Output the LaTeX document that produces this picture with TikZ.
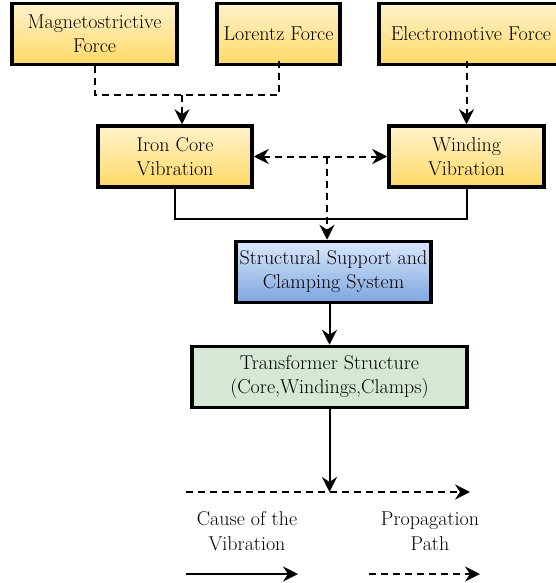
\documentclass[tikz,border=0pt]{standalone}
\usepackage{tikz}
\usetikzlibrary{positioning}
\usetikzlibrary{arrows.meta,shapes}
\usetikzlibrary{calc}
\definecolor{yellowtop}{HTML}{FFF2CC}
\definecolor{yellowbot}{HTML}{FFD966}
\definecolor{bluetop}{HTML}{DAE8FC}
\definecolor{bluebot}{HTML}{7EA6E0}
\definecolor{greenfill}{HTML}{D5E8D4}
\tikzstyle{box}=[rectangle,draw=black,line width=3.5pt,align=center,minimum height=61pt,inner sep=2pt,font=\fontsize{20}{24}\selectfont]
\tikzstyle{forcebox}=[box,top color=yellowtop,bottom color=yellowbot]
\tikzstyle{supportbox}=[box,top color=bluetop,bottom color=bluebot]
\tikzstyle{structbox}=[box,fill=greenfill]
\tikzstyle{edge} = [draw,line width=2pt,-{Stealth[length=15pt,width=15pt,inset=5pt]}]
\tikzstyle{dashededge} = [edge,dash pattern=on 7pt off 5pt]
\tikzstyle{plainedge} = [draw,line width=2pt]
\tikzstyle{legendtext} = [align=center,font=\fontsize{20}{25}\selectfont]

\begin{document}
\begin{tikzpicture}[x=1pt,y=-1pt]
  \useasboundingbox (0,0) rectangle (556,583);

  \foreach \pos/\name/\boxw/\txt in {{(94.5,34)/mag/165/{Magnetostrictive\\Force}}, {(278.5,34)/lor/123/{Lorentz Force}}, {(471,34)/emf/184/{Electromotive Force}}, {(175,156.5)/iron/154/{Iron Core\\Vibration}}, {(466.5,156.5)/wind/155/{Winding\\Vibration}}}
     \node[forcebox,minimum width=\boxw pt] (\name) at \pos {\txt};

  \node[supportbox,minimum width=195pt] (sup) at (333.5,272) {Structural Support and\\Clamping System};
  \node[structbox,minimum width=275pt] (tra) at (329.5,377) {Transformer Structure\\(Core,Windings,Clamps)};

  % forces to vibrations
  \coordinate (fj) at (182,95);
  \draw[plainedge,dash pattern=on 7pt off 5pt] (mag.south) |- (fj) -| ([yshift=5pt]lor.south);
  \path[dashededge] (fj) -- (fj |- iron.north);
  \path[dashededge] ([yshift=5pt]emf.south -| wind.north) -- (wind.north);

  % vibrations to support
  \path[dashededge,{Stealth[length=15pt,width=15pt,inset=5pt]}-{Stealth[length=15pt,width=15pt,inset=5pt]}] (iron.east) -- (wind.west);
  \coordinate (vj) at (327,156.5);
  \path[dashededge] (vj) -- (vj |- sup.north);
  \draw[plainedge] (iron.south) -- ++(0,30) -| (wind.south);

  \path[edge] (tra.north |- sup.south) -- (tra.north);

  % legend
  \coordinate (la) at (186,492);
  \coordinate (lb) at (470,492);
  \path[dashededge] (la) -- (lb);
  \path[edge] (tra.south) -- (tra.south |- la);

  \node[legendtext] (cause) at (247,531) {Cause of the\\Vibration};
  \node[legendtext] (prop) at (430,531) {Propagation\\Path};
  \coordinate (ca) at (186,574);
  \coordinate (cb) at (298,574);
  \coordinate (pa) at (369,574);
  \coordinate (pb) at (480,574);
  \path[edge] (ca) -- (cb);
  \path[dashededge] (pa) -- (pb);
\end{tikzpicture}
\end{document}
